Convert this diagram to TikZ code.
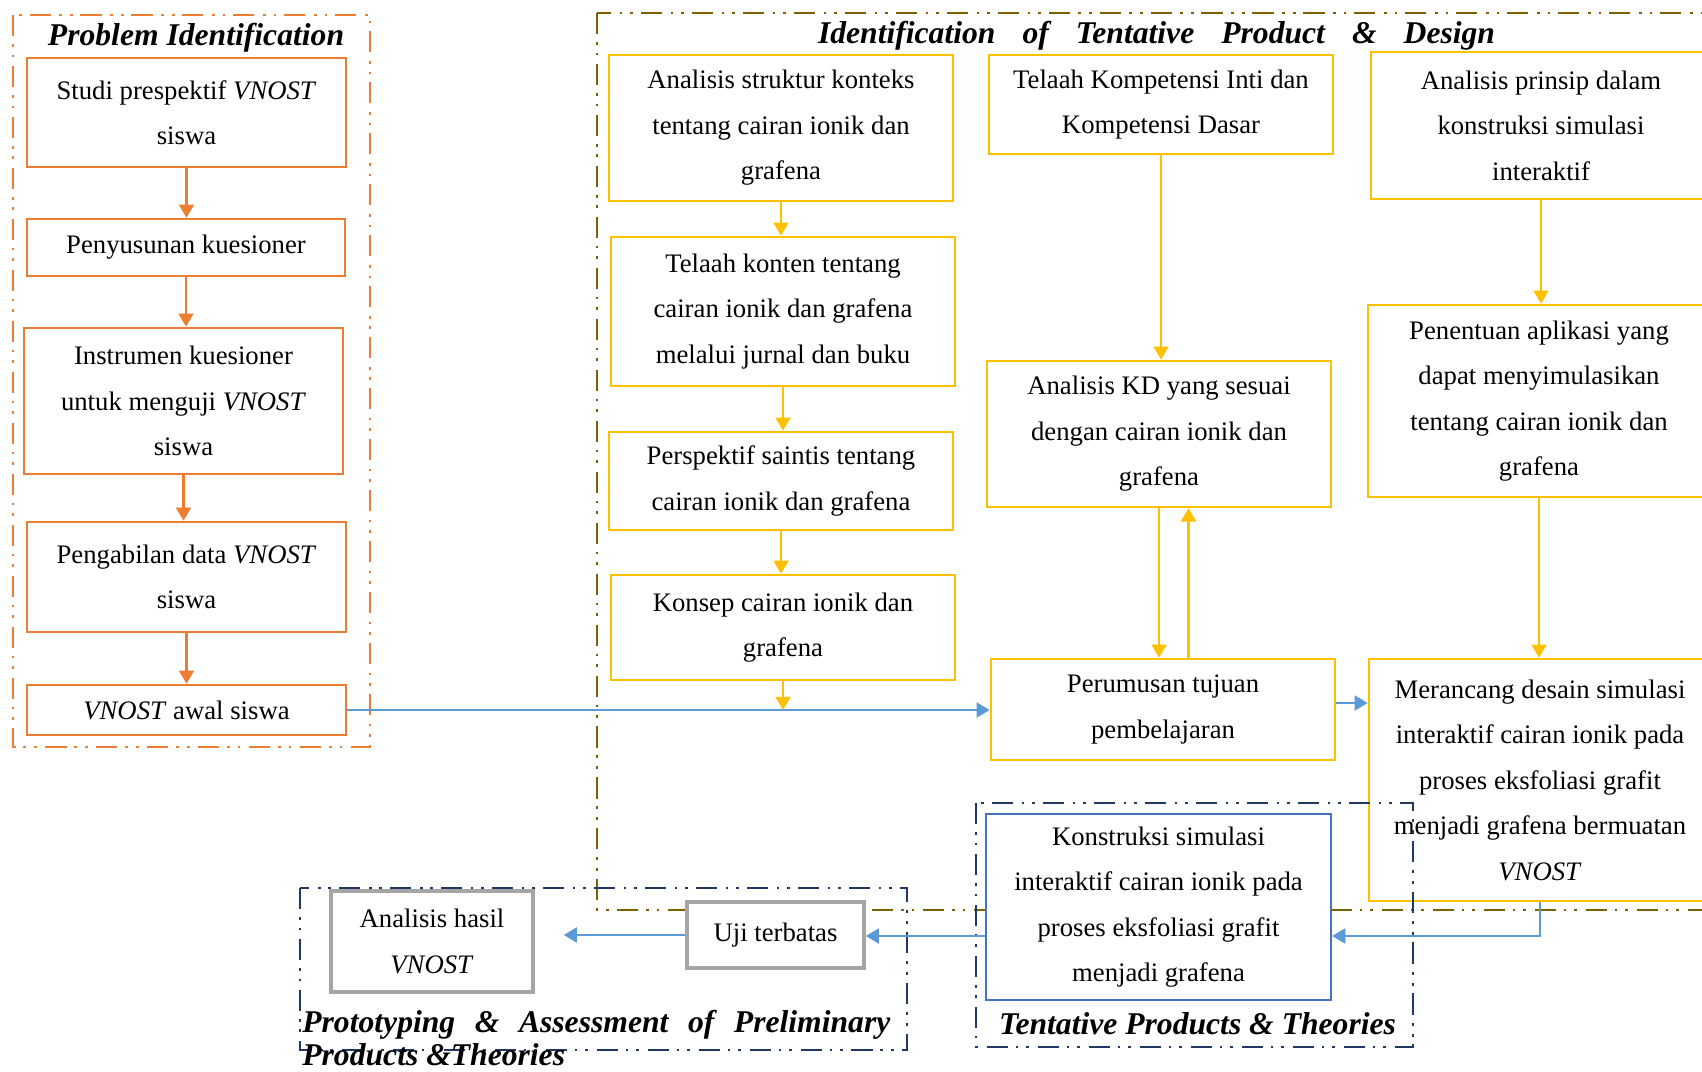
\documentclass[tikz,border=0pt]{standalone}
\usepackage{fontspec}
\setmainfont{Liberation Serif}
\usetikzlibrary{arrows.meta}

\definecolor{orng}{HTML}{ED7D31}
\definecolor{gold}{HTML}{FFC000}
\definecolor{olive}{HTML}{7F6000}
\definecolor{navy}{HTML}{1F3864}
\definecolor{boxblue}{HTML}{4472C4}
\definecolor{arrblue}{HTML}{5B9BD5}
\definecolor{gry}{HTML}{A5A5A5}

\tikzset{
    box/.style={draw, line width=1.5pt, fill=white, align=center, inner sep=2pt,
        font=\fontsize{15.2}{25.9}\selectfont},
    obox/.style={box, draw=orng},
    ybox/.style={box, draw=gold},
    bbox/.style={box, draw=boxblue, line width=1.3pt},
    gbox/.style={box, draw=gry, line width=2pt},
    frame/.style={line width=1.4pt, dash pattern=on 12pt off 4.5pt on 1.5pt off 4.5pt on 1.5pt off 5pt},
    ttl/.style={font=\fontsize{18}{20}\selectfont\bfseries\itshape, inner sep=0pt},
    oarr/.style={draw=orng, line width=1.3pt, -{Triangle[width=8.5pt,length=7.5pt]}},
    yarr/.style={draw=gold, line width=1.3pt, -{Triangle[width=8.5pt,length=7.5pt]}},
    barr/.style={draw=arrblue, line width=1.4pt, -{Triangle[width=8.5pt,length=7.5pt]}}
}

\begin{document}
\begin{tikzpicture}
    \useasboundingbox (0,0) rectangle (34.04,-21.42);

    \draw[frame, draw=olive](11.94,-0.26) rectangle (34.4,-18.2);
    \draw[frame, draw=orng](0.26,-0.3) rectangle (7.4,-14.94);
    \draw[frame, draw=navy](6.0,-17.76) rectangle (18.14,-21.0);

    \node[ttl] (pitl) at (3.92,-0.76) {Problem Identification};
    \node[ttl] (ditl) at (23.13,-0.72) {\makebox[13.54cm][s]{Identification of Tentative Product \& Design}};
    \node[ttl, anchor=base west] (patl) at (6.04,-20.64) {\makebox[11.76cm][s]{Prototyping \& Assessment of Preliminary}};
    \node[ttl, anchor=base west] (patl2) at (6.04,-21.3) {Products \&Theories};

    \node[obox, minimum width=6.38cm, minimum height=2.18cm] (studi) at (3.73,-2.25) {Studi prespektif \textit{VNOST}\\siswa};
    \node[obox, minimum width=6.36cm, minimum height=1.14cm] (susun) at (3.72,-4.95) {Penyusunan kuesioner};
    \node[obox, minimum width=6.38cm, minimum height=2.92cm] (instrumen) at (3.67,-8.02) {Instrumen kuesioner\\untuk menguji \textit{VNOST}\\siswa};
    \node[obox, minimum width=6.38cm, minimum height=2.2cm] (ambil) at (3.73,-11.54) {Pengabilan data \textit{VNOST}\\siswa};
    \node[obox, minimum width=6.38cm, minimum height=1.0cm] (awal) at (3.73,-14.2) {\textit{VNOST} awal siswa};

    \node[ybox, minimum width=6.88cm, minimum height=2.92cm] (konteks) at (15.62,-2.56) {Analisis struktur konteks\\tentang cairan ionik dan\\grafena};
    \node[ybox, minimum width=6.88cm, minimum height=2.98cm] (konten) at (15.66,-6.23) {Telaah konten tentang\\cairan ionik dan grafena\\melalui jurnal dan buku};
    \node[ybox, minimum width=6.88cm, minimum height=1.96cm] (saintis) at (15.62,-9.62) {Perspektif saintis tentang\\cairan ionik dan grafena};
    \node[ybox, minimum width=6.88cm, minimum height=2.1cm] (konsep) at (15.66,-12.55) {Konsep cairan ionik dan\\grafena};

    \node[ybox, minimum width=6.88cm, minimum height=1.98cm] (kikd) at (23.22,-2.09) {Telaah Kompetensi Inti dan\\Kompetensi Dasar};
    \node[ybox, minimum width=6.88cm, minimum height=2.92cm] (kd) at (23.18,-8.68) {Analisis KD yang sesuai\\dengan cairan ionik dan\\grafena};
    \node[ybox, minimum width=6.88cm, minimum height=2.02cm] (tujuan) at (23.26,-14.19) {Perumusan tujuan\\pembelajaran};

    \node[ybox, minimum width=6.8cm, minimum height=2.94cm] (prinsip) at (30.82,-2.51) {Analisis prinsip dalam\\konstruksi simulasi\\interaktif};
    \node[ybox, minimum width=6.84cm, minimum height=3.84cm] (aplikasi) at (30.78,-8.02) {Penentuan aplikasi yang\\dapat menyimulasikan\\tentang cairan ionik dan\\grafena};
    \node[ybox, minimum width=6.84cm, minimum height=4.84cm] (desain) at (30.8,-15.6) {Merancang desain simulasi\\interaktif cairan ionik pada\\proses eksfoliasi grafit\\menjadi grafena bermuatan\\\textit{VNOST}};

    \node[bbox, minimum width=6.9cm, minimum height=3.72cm] (konstruksi) at (23.17,-18.14) {Konstruksi simulasi\\interaktif cairan ionik pada\\proses eksfoliasi grafit\\menjadi grafena};
    \node[gbox, minimum width=3.54cm, minimum height=1.32cm] (uji) at (15.51,-18.7) {Uji terbatas};
    \node[gbox, minimum width=4.04cm, minimum height=2.02cm] (hasil) at (8.64,-18.83) {Analisis hasil\\\textit{VNOST}};

    \draw[frame, draw=navy](19.52,-16.06) rectangle (28.26,-20.94);
    \node[ttl] (tptl) at (23.95,-20.48) {Tentative Products \& Theories};

    \draw[oarr] (studi.south) -- (studi.south |- susun.north);
    \draw[oarr] (susun.south) -- (susun.south |- instrumen.north);
    \draw[oarr] (instrumen.south) -- (instrumen.south |- ambil.north);
    \draw[oarr] (ambil.south) -- (ambil.south |- awal.north);

    \draw[yarr] (konteks.south) -- (konteks.south |- konten.north);
    \draw[yarr] (konten.south) -- (konten.south |- saintis.north);
    \draw[yarr] (saintis.south) -- (saintis.south |- konsep.north);
    \draw[yarr] (konsep.south) -- (konsep.south |- awal.east);

    \draw[yarr] (kikd.south) -- (kikd.south |- kd.north);
    \draw[yarr] (kd.south) -- (kd.south |- tujuan.north);
    \draw[yarr] ([xshift=0.51cm]tujuan.north) -- ([xshift=0.51cm]tujuan.north |- kd.south);

    \draw[yarr] (prinsip.south) -- (prinsip.south |- aplikasi.north);
    \draw[yarr] (aplikasi.south) -- (aplikasi.south |- desain.north);

    \draw[barr] (awal.east) -- (awal.east -| tujuan.west);
    \draw[barr] ([yshift=0.13cm]tujuan.east) -- ([yshift=0.13cm]tujuan.east -| desain.west);
    \draw[barr] (desain.south) |- ([yshift=-0.58cm]konstruksi.east);
    \draw[barr] ([yshift=-0.58cm]konstruksi.west) -- ([yshift=-0.58cm]konstruksi.west -| uji.east);
    \draw[barr, shorten >=0.58cm] (uji.west) -- (uji.west -| hasil.east);
\end{tikzpicture}
\end{document}
